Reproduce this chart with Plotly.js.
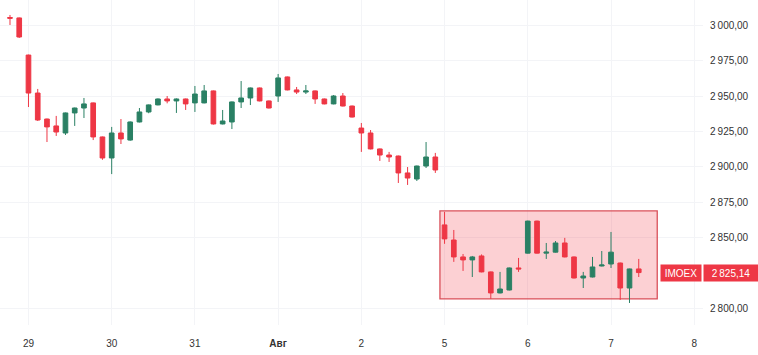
<!DOCTYPE html>
<html>
<head>
<meta charset="utf-8">
<script src="https://cdn.plot.ly/plotly-3.0.1.min.js"></script>
<style>html,body{margin:0;padding:0;background:#fff;}#chart{width:758px;height:355px;}</style>
</head>
<body>
<div id="chart"></div>
<script>
// Hourly IMOEX candles, 26 Jul (last 2 bars) .. 7 Aug
const openP  = [3005.8,3005.5,2979.2,2952.3,2933.9,2929.0,2924.0,2938.2,2941.7,2945.3,2921.2,2906.3,2924.0,2919.0,2931.8,2938.9,2943.9,2948.1,2946.7,2948.1,2945.3,2945.3,2953.8,2930.4,2931.8,2946.0,2948.8,2955.9,2946.7,2950.2,2963.7,2954.5,2953.0,2953.8,2948.1,2944.6,2950.2,2943.1,2927.5,2924.0,2912.7,2908.4,2907.7,2895.7,2891.4,2900.6,2907.0,2858.9,2848.2,2836.2,2834.1,2836.9,2825.6,2810.7,2812.8,2828.4,2838.9,2861.6,2838.9,2839.6,2846.1,2836.2,2821.3,2822.0,2829.8,2831.2,2831.9,2814.2,2827.7];
const highP  = [3007.6,3005.8,2979.5,2955.2,2934.2,2936.1,2938.5,2942.0,2948.8,2945.6,2921.5,2928.3,2933.9,2932.2,2941.7,2944.2,2948.5,2950.2,2948.5,2948.4,2957.3,2958.0,2954.1,2940.3,2946.3,2960.8,2956.2,2956.2,2947.0,2965.8,2964.0,2956.6,2958.0,2954.1,2948.4,2950.9,2952.3,2943.4,2931.1,2926.1,2913.0,2910.6,2908.0,2899.9,2900.9,2917.6,2909.9,2868.1,2855.3,2838.3,2836.9,2838.0,2825.9,2825.6,2828.7,2835.5,2861.9,2861.9,2846.1,2847.5,2849.7,2836.5,2825.6,2836.2,2840.4,2853.9,2832.2,2827.9,2834.8];
const lowP   = [3000.5,2991.3,2942.4,2932.5,2917.6,2921.9,2922.6,2929.0,2934.6,2919.0,2905.0,2894.9,2916.2,2918.5,2931.5,2938.0,2943.6,2945.0,2938.2,2940.3,2938.9,2945.0,2930.0,2930.1,2926.8,2941.7,2943.8,2946.4,2941.4,2946.0,2954.2,2951.6,2951.6,2944.6,2944.3,2944.3,2942.8,2935.0,2910.6,2912.4,2904.2,2903.5,2888.6,2887.2,2890.0,2899.2,2895.7,2845.5,2832.7,2826.3,2822.0,2825.3,2806.5,2810.4,2812.5,2825.6,2838.6,2838.6,2834.8,2839.3,2835.9,2821.0,2814.2,2821.7,2829.5,2828.4,2805.8,2803.6,2822.0];
const closeP = [3005.3,2992.0,2952.3,2933.2,2928.3,2924.7,2938.2,2941.7,2944.6,2921.2,2906.3,2924.0,2919.8,2931.8,2938.9,2943.9,2948.1,2946.7,2948.1,2944.6,2951.6,2953.8,2930.4,2932.5,2946.0,2948.8,2955.9,2946.7,2941.7,2963.0,2954.5,2953.0,2953.8,2948.1,2944.6,2950.2,2943.1,2935.3,2924.0,2912.7,2908.4,2907.0,2895.7,2892.1,2900.6,2907.0,2897.8,2849.0,2836.2,2834.1,2836.2,2825.6,2810.7,2813.5,2828.4,2827.7,2861.6,2838.9,2839.6,2846.1,2836.2,2821.3,2822.7,2829.1,2830.5,2839.6,2814.2,2827.7,2825.14];

// time-axis labels (bar index of each day's first bar)
const dayTickIndex = [2, 11, 20, 29, 38, 47, 56, 65, 74];
const dayTickText  = ['29', '30', '31', '<b>Авг</b>', '2', '5', '6', '7', '8'];

// price-axis ticks (2 825,00 is covered by the last-price label)
const priceTicks = [2800, 2850, 2875, 2900, 2925, 2950, 2975, 3000];
const priceTickText = ['2\u2009800,00','2\u2009850,00','2\u2009875,00','2\u2009900,00','2\u2009925,00','2\u2009950,00','2\u2009975,00','3\u2009000,00'];

const symbol = 'IMOEX';
const lastPrice = 2825.14;
const lastPriceText = '2\u2009825,14';

// highlighted zone (bar index span, price span)
const zoneX = [46.5, 70.0];
const zoneY = [2806.5, 2868.8];

const barIndex = closeP.map((_, i) => i);

const GREEN = '#2a8064';
const RED = '#ee3745';

const trace = {
  type: 'candlestick',
  x: barIndex,
  open: openP, high: highP, low: lowP, close: closeP,
  increasing: {line: {color: GREEN, width: 1}, fillcolor: GREEN},
  decreasing: {line: {color: RED, width: 1}, fillcolor: RED},
  whiskerwidth: 0,
  hoverinfo: 'none'
};

const layout = {
  width: 758, height: 355,
  margin: {l: 0, r: 55, t: 0, b: 30, pad: 0},
  paper_bgcolor: '#ffffff', plot_bgcolor: '#ffffff',
  showlegend: false,
  boxgap: 0.28,
  font: {family: 'Liberation Sans, Arial, sans-serif', size: 10, color: '#333'},
  xaxis: {
    range: [-1.08, 74.95],
    tickmode: 'array', tickvals: dayTickIndex, ticktext: dayTickText,
    showgrid: true, gridcolor: '#f3f4f7', gridwidth: 1,
    zeroline: false, showline: false, ticks: '',
    ticklabelstandoff: 11,
    rangeslider: {visible: false},
    tickfont: {size: 10, color: '#333'},
    fixedrange: true
  },
  yaxis: {
    side: 'right',
    range: [2788.0, 3018.2],
    tickmode: 'array', tickvals: priceTicks, ticktext: priceTickText,
    showgrid: true, gridcolor: '#f3f4f7', gridwidth: 1,
    zeroline: false, showline: false, ticks: '',
    ticklabelstandoff: 6,
    tickfont: {size: 10, color: '#333'},
    fixedrange: true
  },
  shapes: [{
    type: 'rect', xref: 'x', yref: 'y', layer: 'between',
    x0: zoneX[0], x1: zoneX[1], y0: zoneY[0], y1: zoneY[1],
    fillcolor: 'rgba(242,60,72,0.24)',
    line: {color: '#d9505a', width: 1.3}
  }],
  annotations: [
    {
      xref: 'paper', yref: 'y', x: 1, y: lastPrice, xanchor: 'right', yanchor: 'middle',
      xshift: -1, text: symbol, showarrow: false,
      bgcolor: RED, font: {color: '#fff', size: 10},
      width: 38, height: 14, borderpad: 1, align: 'center'
    },
    {
      xref: 'paper', yref: 'y', x: 1, y: lastPrice, xanchor: 'left', yanchor: 'middle',
      text: lastPriceText, showarrow: false,
      bgcolor: RED, font: {color: '#fff', size: 10},
      width: 52, height: 14, borderpad: 1, align: 'center'
    }
  ]
};

Plotly.newPlot('chart', [trace], layout, {displayModeBar: false, staticPlot: true});
</script>
</body>
</html>
